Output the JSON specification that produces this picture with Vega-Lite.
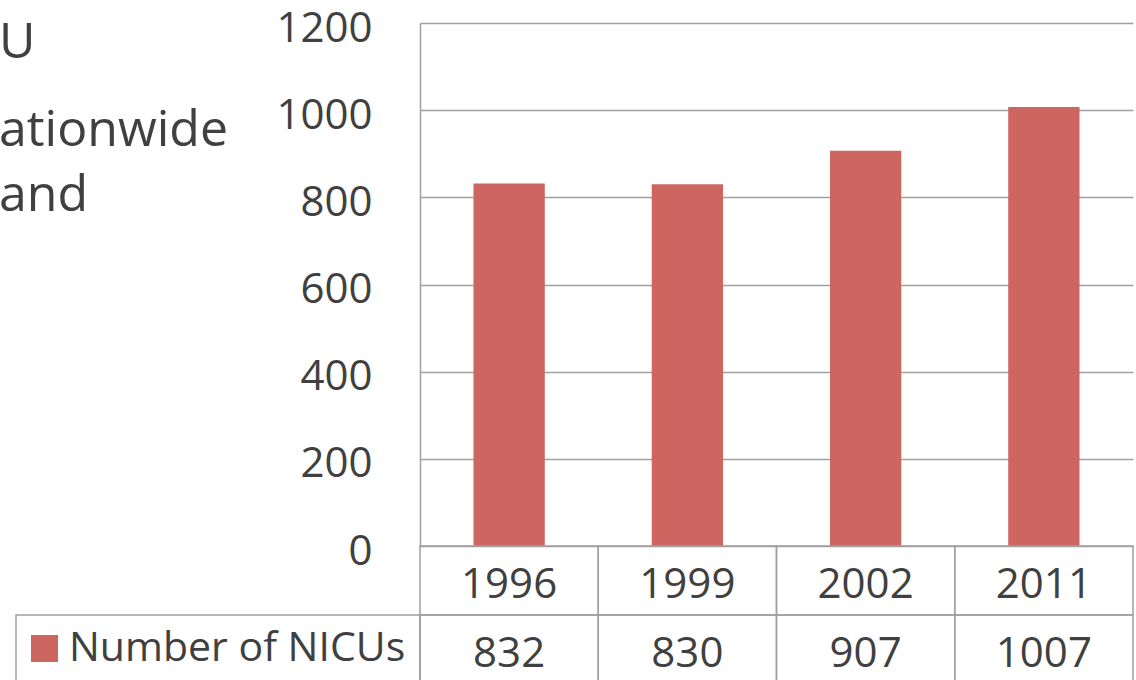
{
  "$schema": "https://vega.github.io/schema/vega-lite/v6.json",
  "width": 713,
  "height": 661,
  "autosize": {"type": "none"},
  "padding": {"left": 420, "top": 23, "right": 3, "bottom": 0},
  "background": "white",
  "config": {"view": {"stroke": null}, "font": "Open Sans"},
  "data": {"values": [
    {"year": "1996", "count": 832, "series": "Number of NICUs"},
    {"year": "1999", "count": 830, "series": "Number of NICUs"},
    {"year": "2002", "count": 907, "series": "Number of NICUs"},
    {"year": "2011", "count": 1007, "series": "Number of NICUs"}
  ]},
  "title": {
    "text": "U",
    "subtitle": ["ationwide", "and"],
    "anchor": "start",
    "frame": "group",
    "orient": "top",
    "offset": 0,
    "dx": -421,
    "dy": 214,
    "fontSize": 50,
    "font": "Open Sans",
    "fontWeight": "normal",
    "color": "#404040",
    "subtitleFontSize": 50,
    "subtitleFont": "Open Sans",
    "subtitleFontWeight": "normal",
    "subtitleColor": "#404040",
    "subtitleLineHeight": 65,
    "subtitlePadding": 38
  },
  "layer": [
    {
      "mark": {"type": "bar"},
      "encoding": {
        "x": {"field": "year", "type": "nominal", "scale": {"paddingInner": 0.6, "paddingOuter": 0.3}, "axis": null},
        "y": {
          "field": "count", "type": "quantitative",
          "scale": {"domain": [0, 1200], "range": [523, 0], "nice": false},
          "axis": {
            "values": [0, 200, 400, 600, 800, 1000, 1200],
            "format": "d",
            "title": null,
            "grid": true, "gridColor": "#a0a0a0", "gridWidth": 1.5,
            "domainColor": "#a0a0a0", "domainWidth": 1.5,
            "ticks": false,
            "labelFontSize": 42, "labelFont": "Open Sans", "labelColor": "#404040",
            "labelPadding": 48, "labelOffset": 5
          }
        },
        "color": {
          "field": "series", "type": "nominal",
          "scale": {"range": ["#CD6660"]},
          "legend": {
            "orient": "none", "legendX": -396, "legendY": 605,
            "title": null, "symbolType": "square", "symbolSize": 729, "symbolStrokeWidth": 0,
            "labelFontSize": 41, "labelFont": "Open Sans", "labelColor": "#404040",
            "labelOffset": 4, "padding": 0, "labelLimit": 0
          }
        }
      }
    },
    {
      "transform": [{"fold": ["year", "count"], "as": ["key", "value"]}],
      "encoding": {
        "y": {
          "field": "key", "type": "nominal",
          "scale": {"type": "band", "domain": ["year", "count"], "range": [523, 661], "paddingInner": 0, "paddingOuter": 0},
          "axis": null
        }
      },
      "layer": [
        {
          "mark": {"type": "rect", "filled": false, "stroke": "#a0a0a0", "strokeWidth": 1.5},
          "encoding": {"x": {"field": "year", "type": "nominal", "scale": {"paddingInner": 0, "paddingOuter": 0}, "axis": null}}
        },
        {
          "mark": {"type": "text", "fontSize": 42, "color": "#404040", "dy": 4, "font": "Open Sans"},
          "encoding": {
            "x": {"field": "year", "type": "nominal", "scale": {"paddingInner": 0, "paddingOuter": 0}, "axis": null},
            "text": {"field": "value", "type": "nominal"}
          }
        },
        {
          "transform": [
            {"filter": "datum.key === 'count'"},
            {"aggregate": [{"op": "count", "as": "n"}], "groupby": ["key", "series"]}
          ],
          "mark": {"type": "rect", "filled": false, "stroke": "#a0a0a0", "strokeWidth": 1.5},
          "encoding": {"x": {"field": "series", "type": "nominal", "scale": {"type": "band", "range": [-404, 0], "paddingInner": 0, "paddingOuter": 0}, "axis": null}}
        }
      ],
      "resolve": {"scale": {"x": "independent"}}
    }
  ],
  "resolve": {"scale": {"x": "independent", "y": "independent"}}
}
